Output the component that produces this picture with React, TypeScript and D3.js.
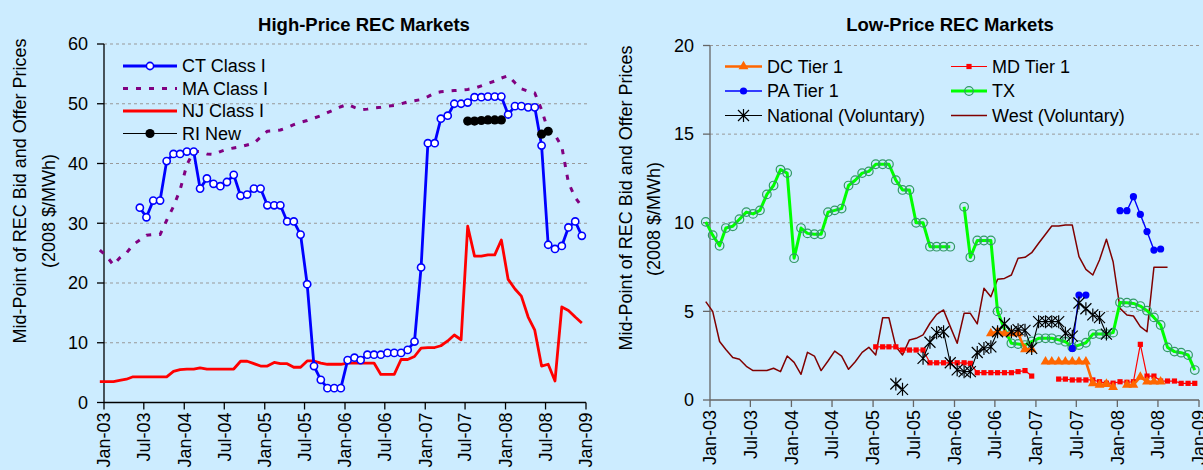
import React from 'react';
import * as d3 from 'd3';

// month index 0 = Jan-03; each series = start month + monthly values (null = gap)
const CT_START = 5;
const CT_CLASS_I = [
  32.6, 31.0, 33.8, 33.8, 40.4, 41.6, 41.6, 42.0, 42.0, 35.8, 37.5, 36.6, 36.2, 36.9, 38.1,
  34.6, 34.8, 35.8, 35.8, 33.0, 33.0, 33.0, 30.3, 30.3, 28.1, 19.8, 6.1, 3.8, 2.4, 2.4, 2.4,
  7.1, 7.5, 7.1, 8.0, 8.0, 8.0, 8.3, 8.3, 8.3, 8.8, 10.2, 22.6, 43.4, 43.4, 47.5, 48.0, 50.0,
  50.0, 50.2, 51.1, 51.1, 51.2, 51.2, 51.2, 48.2, 49.6, 49.6, 49.4, 49.4, 43.0, 26.4, 25.7,
  26.2, 29.3, 30.3, 27.9,
];
const MA_START = -1;
const MA_CLASS_I = [
  25.5, 24.5, 23.0, 24.2, 25.0, 26.4, 27.2, 28.0, 28.1, 28.1, 30.5, 32.8, 35.6, 39.8, 42.0,
  42.0, 41.6, 41.5, 42.0, 42.4, 42.6, 42.8, 43.1, 43.4, 44.4, 45.4, 45.5, 45.6, 46.0, 46.5,
  46.9, 47.2, 47.6, 48.0, 48.5, 49.0, 49.5, 49.9, 49.4, 49.0, 49.1, 49.3, 49.4, 49.6, 49.7,
  50.0, 50.3, 50.5, 50.7, 51.2, 51.8, 52.0, 52.1, 52.2, 52.3, 52.4, 52.6, 53.0, 53.4, 53.8,
  54.3, 54.7, 53.5, 52.5, 52.1, 51.8, 49.0, 45.5, 44.8, 42.8, 36.8, 34.3, 32.8,
];
const NJ_START = -1;
const NJ_CLASS_I = [
  3.5, 3.5, 3.5, 3.7, 3.9, 4.3, 4.3, 4.3, 4.3, 4.3, 4.3, 5.2, 5.5, 5.6, 5.6, 5.8, 5.6, 5.6,
  5.6, 5.6, 5.6, 6.9, 6.9, 6.5, 6.1, 6.1, 6.7, 6.5, 6.5, 5.9, 5.9, 6.95, 6.95, 6.6, 6.4, 6.4,
  6.4, 6.6, 6.6, 6.6, 6.6, 6.6, 4.7, 4.7, 4.7, 7.2, 7.2, 7.7, 9.1, 9.2, 9.2, 9.5, 10.3, 11.3,
  10.5, 29.5, 24.5, 24.5, 24.7, 24.7, 27.2, 20.6, 19.0, 17.8, 14.3, 12.1, 6.1, 6.4, 3.6, 16.0,
  15.4, 14.3, 13.3,
];
const RI_START = 54;
const RI_NEW = [47.1, 47.1, 47.2, 47.3, 47.3, 47.3, null, null, null, null, null, 44.9, 45.4];

const DC_START = 41;
const DC_TIER1 = [
  3.76, 3.85, 3.76, 3.76, 3.76, 2.86, 2.86, null, 2.16, 2.16, 2.16, 2.16, 2.16, 2.16, 2.16,
  0.94, 0.85, 0.9, 0.72, null, 0.85, 0.85, 1.3, 1.03, 1.03, 1.03,
];
const MD_START = 24;
const MD_TIER1 = [
  3.0, 3.0, 3.0, 3.0, 2.82, 2.82, 2.82, 2.82, 2.1, 2.1, 2.1, 2.1, 2.1, 2.1, 2.07, 1.54, 1.54,
  1.54, 1.54, 1.54, 1.54, 1.6, 1.66, 1.35, null, null, null, 1.18, 1.18, 1.13, 1.13, 1.13,
  1.13, 1.03, 0.95, 0.95, 1.03, 1.0, 1.03, 3.14, 1.35, 1.35, 1.07, 1.07, 1.07, 0.94, 0.94, 0.94,
];
const PA_START = 53;
const PA_TIER1 = [2.91, 5.92, 5.92, null, null, null, null, 10.68, 10.68, 11.47, 10.47, 9.5, 8.46, 8.52];
const TX_START = -1;
const TX = [
  10.05, 9.3, 8.7, 9.7, 9.8, 10.2, 10.6, 10.5, 10.7, 11.6, 12.1, 13.0, 12.8, 8.0, 9.7, 9.4,
  9.35, 9.35, 10.6, 10.7, 10.8, 12.1, 12.4, 12.8, 12.9, 13.3, 13.3, 13.3, 12.4, 11.85, 11.85,
  10.0, 10.0, 8.65, 8.65, 8.65, 8.65, null, 10.9, 8.05, 9.0, 9.0, 9.0, 5.0, 4.0, 3.2, 3.16,
  3.1, 3.3, 3.48, 3.48, 3.48, 3.39, 3.29, 2.97, 3.1, 3.23, 3.72, 3.72, 3.72, 3.8, 5.5, 5.49,
  5.45, 5.3, 5.04, 4.66, 4.23, 2.97, 2.73, 2.67, 2.54, 1.69,
];
const NATIONAL_START = 27;
const NATIONAL = [
  0.9, 0.6, null, null, 2.35, 3.26, 3.8, 3.85, 2.1, 1.7, 1.6, 1.6, 2.68, 2.91, 3.0, 3.85, 4.3,
  3.85, 3.97, 3.93, 2.91, 4.42, 4.42, 4.42, 4.42, 3.76, 3.6, 5.47, 5.15, 4.8, 4.65, 3.72,
];
const WEST_START = -1;
const WEST = [
  5.55, 5.0, 3.3, 2.85, 2.4, 2.3, 1.9, 1.66, 1.66, 1.66, 1.79, 1.6, 2.48, 2.12, 1.45, 2.69,
  2.48, 1.66, 2.2, 2.76, 2.48, 1.73, 2.16, 2.69, 2.97, 2.54, 4.64, 4.64, 3.01, 2.54, 3.39,
  3.48, 3.67, 4.33, 4.83, 5.08, 4.14, 3.2, 4.89, 4.89, 4.29, 6.3, 5.83, 6.81, 6.86, 7.05, 8.0,
  8.05, 8.31, 8.84, 9.35, 9.82, 9.82, 9.87, 9.87, 8.09, 7.37, 7.05, 7.9, 9.07, 7.8, 5.17, 4.8,
  4.74, 4.14, 3.85, 7.49, 7.49, 7.49,
];

const LEFT_Y_TICKS = [0, 10, 20, 30, 40, 50, 60];
const RIGHT_Y_TICKS = [0, 5, 10, 15, 20];
const Y_TITLE_1 = 'Mid-Point of REC Bid and Offer Prices';
const Y_TITLE_2 = '(2008 $/MWh)';

const FONT = '"Liberation Sans", Arial, sans-serif';
const BG = '#CCECFF';

type Pt = { d: Date; v: number | null };
const toPoints = (start: number, vals: (number | null)[]): Pt[] =>
  vals.map((v, i) => ({ d: new Date(2003, start + i, 13), v }));

type Marker = 'openCircle' | 'dot' | 'square' | 'triangle' | 'star' | 'tx' | 'none';
interface Series {
  name: string;
  pts: Pt[];
  color: string;
  width: number;
  dash?: string;
  marker: Marker;
}

const MarkerShape: React.FC<{ kind: Marker; x: number; y: number; color: string }> = ({ kind, x, y, color }) => {
  switch (kind) {
    case 'openCircle':
      return <circle cx={x} cy={y} r={3.6} fill="#fff" stroke={color} strokeWidth={1.6} />;
    case 'tx':
      return <circle cx={x} cy={y} r={4.3} fill="none" stroke="#339966" strokeWidth={1.2} />;
    case 'dot':
      return <circle cx={x} cy={y} r={color === '#000' ? 4.6 : 3.6} fill={color} />;
    case 'square':
      return <rect x={x - 2.6} y={y - 2.6} width={5.2} height={5.2} fill={color} />;
    case 'triangle':
      return <path d={d3.symbol(d3.symbolTriangle, 42)() || ''} transform={`translate(${x},${y})`} fill={color} />;
    case 'star':
      return (
        <path
          d="M-5.5,-5.5L5.5,5.5M-5.5,5.5L5.5,-5.5M0,-6.5L0,6.5"
          transform={`translate(${x},${y})`}
          stroke="#000"
          strokeWidth={1.2}
          fill="none"
        />
      );
    default:
      return null;
  }
};

interface PanelProps {
  title: string;
  titleX: number;
  x0: number;
  x1: number;
  yBottom: number;
  yTop: number;
  yMax: number;
  yTicks: number[];
  axisColor: string;
  gridEnd: number;
  series: Series[];
  yLabel1: { x: number; y: number };
  yLabel2: { x: number; y: number };
}

const Panel: React.FC<PanelProps> = (p) => {
  const x = d3.scaleTime().domain([new Date(2003, 0, 1), new Date(2009, 0, 1)]).range([p.x0, p.x1]);
  const y = d3.scaleLinear().domain([0, p.yMax]).range([p.yBottom, p.yTop]);
  const xTicks = x.ticks(d3.timeMonth.every(6)!);
  const fmt = d3.timeFormat('%b-%y');

  return (
    <g fontFamily={FONT}>
      <text x={p.titleX} y={31} textAnchor="middle" fontWeight="bold" fontSize={18.5}>
        {p.title}
      </text>
      {/* grid */}
      {p.yTicks.filter((t) => t > 0).map((t) => (
        <line key={t} x1={p.x0} x2={p.gridEnd} y1={y(t)} y2={y(t)} stroke="#999" strokeDasharray="3,3" />
      ))}
      {/* axes */}
      <line x1={p.x0} x2={p.x0} y1={p.yTop} y2={p.yBottom} stroke={p.axisColor} strokeWidth={1.3} />
      <line x1={p.x0} x2={p.x1} y1={p.yBottom} y2={p.yBottom} stroke={p.axisColor} strokeWidth={1.3} />
      {p.yTicks.map((t) => (
        <g key={t}>
          <line x1={p.x0 - 7} x2={p.x0} y1={y(t)} y2={y(t)} stroke={p.axisColor} strokeWidth={1.3} />
          <text x={p.x0 - 16} y={y(t)} dy="0.35em" textAnchor="end" fontSize={18}>
            {t}
          </text>
        </g>
      ))}
      {xTicks.map((t) => (
        <g key={t.getTime()}>
          <line x1={x(t)} x2={x(t)} y1={p.yBottom} y2={p.yBottom + 7} stroke={p.axisColor} strokeWidth={1.3} />
          <text
            transform={`translate(${x(t)},${p.yBottom + 10}) rotate(-90)`}
            dy="0.35em"
            textAnchor="end"
            fontSize={18}
          >
            {fmt(t)}
          </text>
        </g>
      ))}
      <text transform={`translate(${p.yLabel1.x},${p.yLabel1.y}) rotate(-90)`} textAnchor="middle" fontSize={18}>
        {Y_TITLE_1}
      </text>
      <text transform={`translate(${p.yLabel2.x},${p.yLabel2.y}) rotate(-90)`} textAnchor="middle" fontSize={18}>
        {Y_TITLE_2}
      </text>
      {/* series */}
      {p.series.map((s) => {
        const line = d3
          .line<Pt>()
          .defined((d) => d.v != null)
          .x((d) => x(d.d))
          .y((d) => y(d.v as number));
        return (
          <g key={s.name}>
            <path
              d={line(s.pts) || ''}
              fill="none"
              stroke={s.color}
              strokeWidth={s.width}
              strokeDasharray={s.dash}
              strokeLinejoin="round"
            />
            {s.marker !== 'none' &&
              s.pts
                .filter((d) => d.v != null)
                .map((d, i) => <MarkerShape key={i} kind={s.marker} x={x(d.d)} y={y(d.v as number)} color={s.color} />)}
          </g>
        );
      })}
    </g>
  );
};

const LegendItem: React.FC<{ s: Series; x: number; y: number; len: number }> = ({ s, x, y, len }) => (
  <g fontFamily={FONT}>
    <line x1={x} x2={x + len} y1={y} y2={y} stroke={s.color} strokeWidth={s.width} strokeDasharray={s.dash} />
    {s.marker !== 'none' && <MarkerShape kind={s.marker} x={x + len / 2} y={y} color={s.color} />}
    <text x={x + len + 5} y={y} dy="0.35em" fontSize={18}>
      {s.name}
    </text>
  </g>
);

export default function App() {
  const ct: Series = { name: 'CT Class I', pts: toPoints(CT_START, CT_CLASS_I), color: '#0000FF', width: 2.8, marker: 'openCircle' };
  const ma: Series = { name: 'MA Class I', pts: toPoints(MA_START, MA_CLASS_I), color: '#800080', width: 3, dash: '5,8', marker: 'none' };
  const nj: Series = { name: 'NJ Class I', pts: toPoints(NJ_START, NJ_CLASS_I), color: '#FF0000', width: 2.8, marker: 'none' };
  const ri: Series = { name: 'RI New', pts: toPoints(RI_START, RI_NEW), color: '#000', width: 1.2, marker: 'dot' };

  const dc: Series = { name: 'DC Tier 1', pts: toPoints(DC_START, DC_TIER1), color: '#FF6600', width: 2.6, marker: 'triangle' };
  const md: Series = { name: 'MD Tier 1', pts: toPoints(MD_START, MD_TIER1), color: '#FF0000', width: 1.2, marker: 'square' };
  const pa: Series = { name: 'PA Tier 1', pts: toPoints(PA_START, PA_TIER1), color: '#0000FF', width: 1.4, marker: 'dot' };
  const tx: Series = { name: 'TX', pts: toPoints(TX_START, TX), color: '#00FF00', width: 3, marker: 'tx' };
  const nat: Series = { name: 'National (Voluntary)', pts: toPoints(NATIONAL_START, NATIONAL), color: '#000', width: 1.1, marker: 'star' };
  const west: Series = { name: 'West (Voluntary)', pts: toPoints(WEST_START, WEST), color: '#800000', width: 1.5, marker: 'none' };

  return (
    <svg
      width={1203}
      height={470}
      style={{ position: 'absolute', left: 0, top: 0, display: 'block', background: BG }}
    >
      <rect width={1203} height={470} fill={BG} />
      <Panel
        title="High-Price REC Markets"
        titleX={364}
        x0={104}
        x1={586}
        yBottom={402.5}
        yTop={44}
        yMax={60}
        yTicks={LEFT_Y_TICKS}
        axisColor="#000"
        gridEnd={587}
        series={[ma, nj, ct, ri]}
        yLabel1={{ x: 26, y: 191 }}
        yLabel2={{ x: 55, y: 211 }}
      />
      <Panel
        title="Low-Price REC Markets"
        titleX={950}
        x0={710}
        x1={1199}
        yBottom={400}
        yTop={45.5}
        yMax={20}
        yTicks={RIGHT_Y_TICKS}
        axisColor="#666"
        gridEnd={1200}
        series={[west, tx, md, dc, pa, nat]}
        yLabel1={{ x: 632, y: 198 }}
        yLabel2={{ x: 660, y: 219 }}
      />
      <LegendItem s={ct} x={123} y={66} len={54} />
      <LegendItem s={ma} x={123} y={88.5} len={54} />
      <LegendItem s={nj} x={123} y={111} len={54} />
      <LegendItem s={ri} x={123} y={133.5} len={54} />
      <LegendItem s={dc} x={725} y={66.5} len={37} />
      <LegendItem s={pa} x={725} y={91} len={37} />
      <LegendItem s={nat} x={725} y={115.5} len={37} />
      <LegendItem s={md} x={951} y={66.5} len={36} />
      <LegendItem s={tx} x={951} y={91} len={36} />
      <LegendItem s={west} x={951} y={115.5} len={36} />
    </svg>
  );
}
